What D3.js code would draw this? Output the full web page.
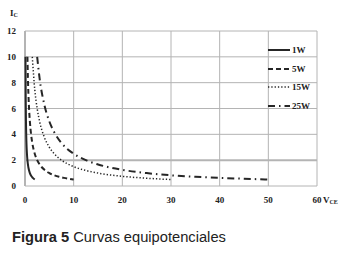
<!DOCTYPE html>
<html>
<head>
<meta charset="utf-8">
<script src="https://cdn.jsdelivr.net/npm/d3@7"></script>
<style>
  body { margin: 0; background: #fff; }
  svg { display: block; }
  .tick-lbl { font-family: "Liberation Serif", "Times New Roman", serif; font-weight: bold; font-size: 9px; fill: #222; }
</style>
</head>
<body>
<div id="chart"></div>
<script>
// values (I_C vs V_CE for each power)
const seriesNames = ["1W", "5W", "15W", "25W"];
const v1W = [0.1, 0.15, 0.2, 0.3, 0.4, 0.5, 0.7, 1, 1.3, 1.6, 2];
const i1W = [10, 6.67, 5, 3.33, 2.5, 2, 1.43, 1, 0.77, 0.63, 0.5];
const v5W = [0.5, 0.6, 0.8, 1, 1.25, 1.5, 2, 2.5, 3, 4, 5, 6, 7, 8, 10];
const i5W = [10, 8.33, 6.25, 5, 4, 3.33, 2.5, 2, 1.67, 1.25, 1, 0.83, 0.71, 0.63, 0.5];
const v15W = [1.5, 2, 2.5, 3, 4, 5, 6, 7.5, 10, 12.5, 15, 20, 25, 30];
const i15W = [10, 7.5, 6, 5, 3.75, 3, 2.5, 2, 1.5, 1.2, 1, 0.75, 0.6, 0.5];
const v25W = [2.5, 3, 4, 5, 6, 7.5, 10, 12.5, 15, 20, 25, 30, 35, 40, 45, 50];
const i25W = [10, 8.33, 6.25, 5, 4.17, 3.33, 2.5, 2, 1.67, 1.25, 1, 0.83, 0.71, 0.63, 0.56, 0.5];
const xTicks = [0, 10, 20, 30, 40, 50, 60];
const yTicks = [0, 2, 4, 6, 8, 10, 12];

const width = 349, height = 253;
const margin = { top: 31, right: 32, bottom: 67, left: 25 };

const svg = d3.select("#chart").append("svg")
    .attr("width", width)
    .attr("height", height);

const x = d3.scaleLinear().domain([0, 60]).range([margin.left, width - margin.right]);
const y = d3.scaleLinear().domain([0, 12]).range([height - margin.bottom, margin.top]);

// grid
svg.append("g").selectAll("line.v")
    .data(xTicks).enter().append("line")
    .attr("x1", d => x(d)).attr("x2", d => x(d))
    .attr("y1", y(0)).attr("y2", y(12))
    .attr("stroke", "#b4b4b4")
    .attr("stroke-width", d => d == 0 ? 2 : 1);
svg.append("g").selectAll("line.h")
    .data(yTicks).enter().append("line")
    .attr("x1", x(0)).attr("x2", x(60))
    .attr("y1", d => y(d)).attr("y2", d => y(d))
    .attr("stroke", "#b4b4b4")
    .attr("stroke-width", d => d == 2 ? 2 : 1);

// tick labels
svg.append("g").selectAll("text")
    .data(yTicks).enter().append("text")
    .attr("class", "tick-lbl")
    .attr("x", 16).attr("y", d => y(d) + 3)
    .attr("text-anchor", "end")
    .text(d => d);
svg.append("g").selectAll("text")
    .data(xTicks).enter().append("text")
    .attr("class", "tick-lbl")
    .attr("x", d => x(d)).attr("y", y(0) + 17)
    .attr("text-anchor", "middle")
    .text(d => d);

// axis titles
const ic = svg.append("text").attr("class", "tick-lbl").attr("x", 10).attr("y", 16);
ic.append("tspan").text("I");
ic.append("tspan").attr("font-size", "6px").attr("dy", 1).text("C");
const vce = svg.append("text").attr("class", "tick-lbl").attr("x", 323).attr("y", y(0) + 17);
vce.append("tspan").text("V");
vce.append("tspan").attr("font-size", "6px").attr("dy", 1).text("CE");

// curves
const series = [
    { name: seriesNames[0], v: v1W, i: i1W, dash: null, w: 2 },
    { name: seriesNames[1], v: v5W, i: i5W, dash: "5,3", w: 2 },
    { name: seriesNames[2], v: v15W, i: i15W, dash: "1.3,2", w: 1.5 },
    { name: seriesNames[3], v: v25W, i: i25W, dash: "7,4,1.5,4", w: 2 }
];

const line = d3.line()
    .x(d => x(d[0]))
    .y(d => y(d[1]))
    .curve(d3.curveMonotoneX);

svg.append("g").selectAll("path")
    .data(series).enter().append("path")
    .attr("d", s => line(s.v.map((v, k) => [v, s.i[k]])))
    .attr("fill", "none")
    .attr("stroke", "#262626")
    .attr("stroke-width", s => s.w)
    .attr("stroke-dasharray", s => s.dash);

// legend
const legY = [50, 69, 87, 106];
const leg = svg.append("g").selectAll("g")
    .data(series).enter().append("g")
    .attr("transform", (s, k) => "translate(268," + legY[k] + ")");
leg.append("line")
    .attr("x1", 0).attr("x2", 22)
    .attr("stroke", "#262626")
    .attr("stroke-width", s => s.w)
    .attr("stroke-dasharray", s => s.dash);
leg.append("text")
    .attr("class", "tick-lbl")
    .attr("x", 24).attr("y", 3)
    .text(s => s.name);

// caption
const cap = svg.append("text")
    .attr("x", 12).attr("y", 242)
    .attr("font-family", "Liberation Sans, Arial, sans-serif")
    .attr("font-size", "14.7px")
    .attr("fill", "#222");
cap.append("tspan").attr("font-weight", "bold").text("Figura 5 ");
cap.append("tspan").text("Curvas equipotenciales");
</script>
</body>
</html>
